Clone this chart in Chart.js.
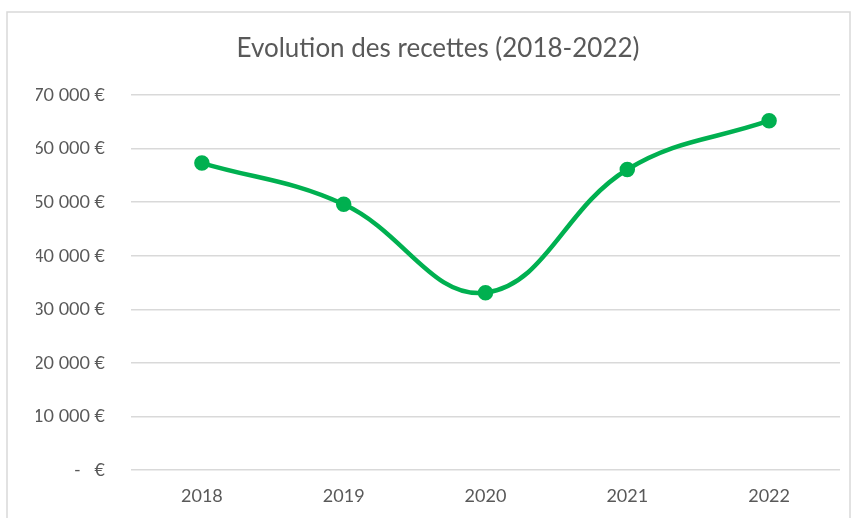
<!DOCTYPE html>
<html>
<head>
<meta charset="utf-8">
<script src="https://cdn.jsdelivr.net/npm/chart.js@4/dist/chart.umd.min.js"></script>
<style>
  html, body { margin: 0; padding: 0; background: #fff; }
  #wrap { position: relative; width: 856px; height: 518px; }
</style>
</head>
<body>
<div id="wrap"><canvas id="c" width="856" height="518"></canvas></div>
<script>
const categories = ['2018', '2019', '2020', '2021', '2022'];
const recettes = [57300, 49600, 33100, 56100, 65200];
const yTicks = [0, 10000, 20000, 30000, 40000, 50000, 60000, 70000];
const chartTitle = 'Evolution des recettes (2018-2022)';

function fmtEuro(v) {
  if (v === 0) return '-   €';
  const s = String(Math.round(v)).replace(/\B(?=(\d{3})+(?!\d))/g, ' ');
  return s + ' €';
}

const borderPlugin = {
  id: 'outerBorder',
  beforeDraw(chart) {
    const ctx = chart.ctx;
    ctx.save();
    ctx.fillStyle = '#ffffff';
    ctx.fillRect(0, 0, chart.width, chart.height);
    ctx.strokeStyle = '#D9D9D9';
    ctx.lineWidth = 1.5;
    ctx.strokeRect(7, 12, 843, 520);
    ctx.restore();
  }
};

new Chart(document.getElementById('c'), {
  type: 'line',
  data: {
    labels: categories,
    datasets: [{
      label: 'Recettes',
      data: recettes,
      borderColor: '#00B050',
      backgroundColor: '#00B050',
      borderWidth: 4.5,
      pointRadius: 5.5,
      pointHoverRadius: 5.5,
      pointBackgroundColor: '#00B050',
      pointBorderColor: '#00B050',
      tension: 0.4,
      fill: false
    }]
  },
  options: {
    responsive: false,
    animation: false,
    layout: { padding: { top: 20, left: 36, right: 16, bottom: 0 } },
    plugins: {
      legend: { display: false },
      tooltip: { enabled: false },
      title: {
        display: true,
        text: chartTitle,
        color: '#595959',
        font: { family: 'Lato', size: 26, weight: 'normal' },
        padding: { top: 13.5, bottom: 30.3 }
      }
    },
    scales: {
      x: {
        offset: true,
        afterFit(scale) { scale.height = 48; },
        grid: { display: false, drawTicks: false },
        border: { display: false },
        ticks: { color: '#595959', font: { family: 'Lato', size: 18 }, padding: 15 }
      },
      y: {
        min: 0,
        max: 70000,
        afterBuildTicks(scale) { scale.ticks = yTicks.map(v => ({ value: v })); },
        afterFit(scale) { scale.width = 95; },
        grid: { color: '#D9D9D9', lineWidth: 1.5, drawTicks: false },
        border: { display: false },
        ticks: {
          color: '#595959',
          font: { family: 'Lato', size: 18 },
          padding: 26,
          callback: (v) => fmtEuro(v)
        }
      }
    }
  },
  plugins: [borderPlugin]
});
</script>
</body>
</html>
